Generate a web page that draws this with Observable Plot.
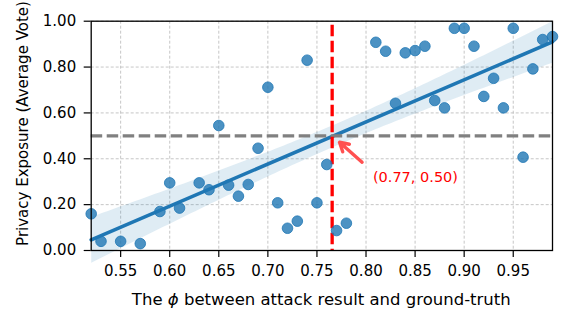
<!DOCTYPE html>
<html>
<head>
<meta charset="utf-8">
<script src="https://cdn.jsdelivr.net/npm/d3@7"></script>
<script src="https://cdn.jsdelivr.net/npm/@observablehq/plot@0.6"></script>
<style>
  html, body { margin: 0; padding: 0; background: white; }
  svg { display: block; }
</style>
</head>
<body>
<div id="chart"></div>
<script>
// Data
const phi = [0.52,0.53,0.55,0.57,0.59,0.60,0.61,0.63,0.64,0.65,0.66,0.67,0.68,0.69,0.70,0.71,0.72,0.73,0.74,0.75,0.76,0.77,0.78,0.81,0.82,0.83,0.84,0.85,0.86,0.87,0.88,0.89,0.90,0.91,0.92,0.93,0.94,0.95,0.96,0.97,0.98,0.99];
const vote = [0.16,0.04,0.04,0.03,0.17,0.295,0.185,0.295,0.265,0.545,0.285,0.237,0.288,0.446,0.712,0.208,0.097,0.128,0.83,0.208,0.375,0.087,0.119,0.908,0.869,0.642,0.862,0.872,0.891,0.654,0.622,0.969,0.969,0.891,0.672,0.751,0.622,0.969,0.407,0.792,0.92,0.933];
const xTicks = [0.55,0.60,0.65,0.70,0.75,0.80,0.85,0.90,0.95];
const yTicks = [0.00,0.20,0.40,0.60,0.80,1.00];
const threshold = [0.5];
const crossPhi = [0.7655];
const annotationLabel = ["(0.77, 0.50)"];
const annotationPos = [0.807, 0.318];
const arrowTail = [0.796, 0.385];
const arrowHead = [0.773, 0.472];

const data = phi.map((x, i) => ({phi: x, vote: vote[i]}));
const fmt = d3.format(".2f");
const blue = "#1f77b4";

const chart = Plot.plot({
  width: 567,
  height: 323,
  marginLeft: 90.7,
  marginRight: 15,
  marginTop: 20.7,
  marginBottom: 73,
  x: {domain: [0.52, 0.99]},
  y: {domain: [0, 1]},
  style: {fontFamily: "DejaVu Sans", fontSize: "15px", color: "black", background: "white"},
  marks: [
    Plot.gridX(xTicks, {stroke: "#b8b8b8", strokeOpacity: 1, strokeWidth: 0.8, strokeDasharray: "3,2"}),
    Plot.gridY(yTicks, {stroke: "#b8b8b8", strokeOpacity: 1, strokeWidth: 0.8, strokeDasharray: "3,2"}),
    Plot.linearRegressionY(data, {x: "phi", y: "vote", ci: 0.85, stroke: blue, strokeWidth: 3.6, fill: blue, fillOpacity: 0.14}),
    Plot.ruleY(threshold, {stroke: "#808080", strokeWidth: 3.3, strokeDasharray: "11.5,4.5"}),
    Plot.ruleX(crossPhi, {stroke: "#ff0000", strokeWidth: 3.3, strokeDasharray: "11.5,4.5", strokeDashoffset: 12}),
    Plot.dot(data, {x: "phi", y: "vote", r: 5.3, fill: blue, fillOpacity: 0.8, stroke: blue, strokeOpacity: 0.8, strokeWidth: 1}),
    Plot.arrow([0], {x1: () => arrowTail[0], y1: () => arrowTail[1], x2: () => arrowHead[0], y2: () => arrowHead[1], stroke: "#ff5050", strokeWidth: 3.4, headLength: 13}),
    Plot.text(annotationLabel, {x: () => annotationPos[0], y: () => annotationPos[1], text: d => d, fill: "#ff0000", textAnchor: "start", fontSize: 14.5}),
    Plot.axisX(xTicks, {tickFormat: fmt, tickSize: 7, tickPadding: 8, label: null, fontSize: 15, stroke: "black", strokeWidth: 1.2}),
    Plot.axisY(yTicks, {tickFormat: fmt, tickSize: 7, tickPadding: 8, label: null, fontSize: 15, stroke: "black", strokeWidth: 1.2}),
    Plot.frame({stroke: "black", strokeWidth: 1.3})
  ]
});

const svg = d3.select(chart);
const xl = svg.append("text")
  .attr("x", 321.3)
  .attr("y", 305)
  .attr("text-anchor", "middle")
  .attr("fill", "black")
  .style("font-family", "DejaVu Sans")
  .style("font-size", "16.5px");
xl.append("tspan").text("The ");
xl.append("tspan").attr("font-style", "italic").text("ϕ");
xl.append("tspan").text(" between attack result and ground-truth");

svg.append("text")
  .attr("transform", "translate(28,123.5) rotate(-90)")
  .attr("text-anchor", "middle")
  .attr("fill", "black")
  .style("font-family", "DejaVu Sans")
  .style("font-size", "15px")
  .text("Privacy Exposure (Average Vote)");

document.getElementById("chart").appendChild(chart);
</script>
</body>
</html>
